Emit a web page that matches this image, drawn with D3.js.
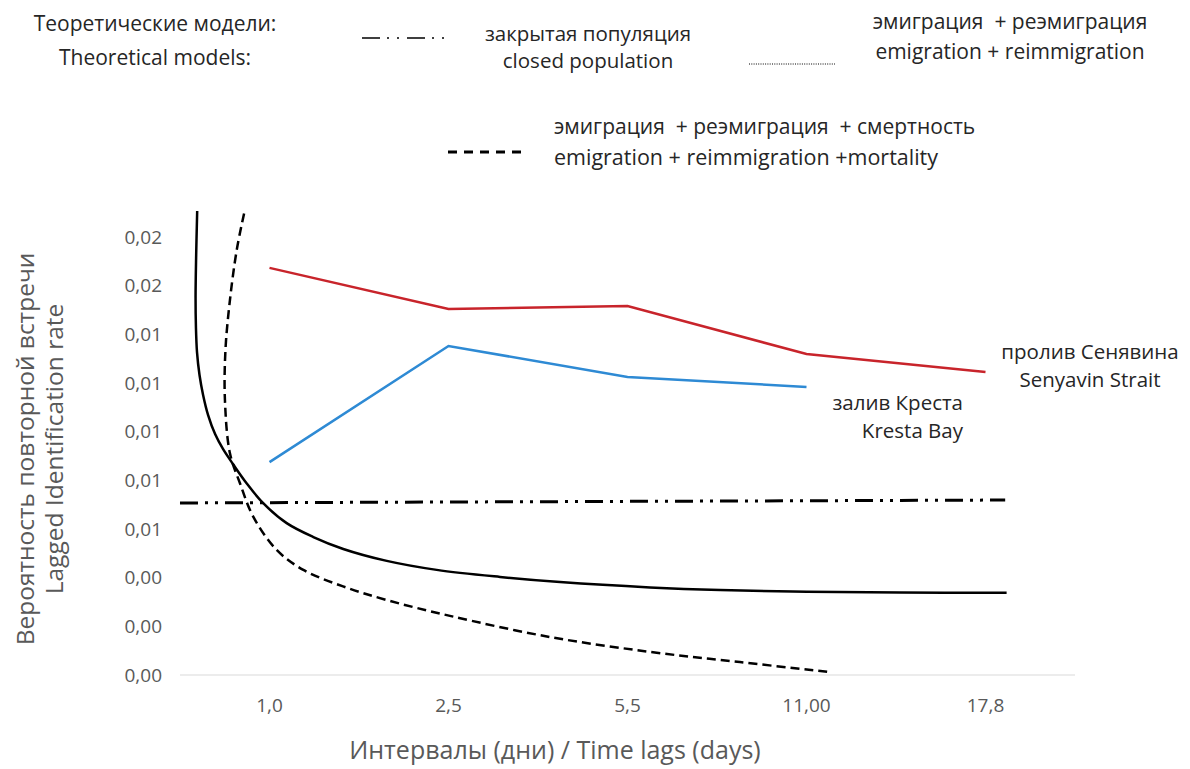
<!DOCTYPE html>
<html>
<head>
<meta charset="utf-8">
<script src="https://cdn.jsdelivr.net/npm/d3@7"></script>
<style>
  body { margin: 0; background: #fff; }
  text { font-family: "Open Sans", sans-serif; white-space: pre; }
</style>
</head>
<body>
<svg id="chart" width="1190" height="769"></svg>
<script>
// Time lag categories (x axis)
const lagLabels = ["1,0", "2,5", "5,5", "11,00", "17,8"];
// Observed lagged identification rates
const senyavinRate = [0.01673, 0.01504, 0.01516, 0.01319, 0.01245];
const krestaRate = [0.00875, 0.01352, 0.01225, 0.01184];
// Theoretical models, x given in lag-index units (0 = first category)
const closedPopX = [-0.5, 4.11];
const closedPopRate = [0.00707, 0.00719];
const emigX = [-0.404, -0.410, -0.413, -0.411, -0.405, -0.391, -0.371, -0.343, -0.304, -0.260, -0.204, -0.127, -0.035, 0.096, 0.245, 0.412, 0.655, 0.934, 1.288, 1.623, 2.126, 2.517, 3.001, 3.522, 4.118];
const emigRate = [0.01907, 0.01714, 0.01553, 0.01430, 0.01327, 0.01233, 0.01151, 0.01068, 0.00990, 0.00929, 0.00867, 0.00787, 0.00706, 0.00624, 0.00567, 0.00518, 0.00469, 0.00432, 0.00403, 0.00382, 0.00360, 0.00349, 0.00342, 0.00339, 0.00338];
const mortX = [-0.142, -0.183, -0.221, -0.246, -0.249, -0.221, -0.165, -0.091, 0.040, 0.189, 0.411, 0.655, 1.008, 1.567, 2.126, 2.628, 3.131];
const mortRate = [0.01897, 0.01747, 0.01541, 0.01336, 0.01130, 0.00911, 0.00788, 0.00651, 0.00514, 0.00432, 0.00364, 0.00308, 0.00243, 0.00156, 0.00095, 0.00053, 0.00012];
const yTicks = d3.range(0, 0.0181, 0.002);

let svg = d3.select("#chart");

let plot = { left: 180, right: 1075, top: 237, bottom: 675 };

let x = d3.scalePoint()
    .domain(lagLabels)
    .range([plot.left, plot.right])
    .padding(0.5);

// continuous version of the same axis for theoretical curves
let xc = d3.scaleLinear()
    .domain([-0.5, lagLabels.length - 0.5])
    .range([plot.left, plot.right]);

let y = d3.scaleLinear()
    .domain([0, 0.018])
    .range([plot.bottom, plot.top]);

let fmt = d => d3.format(".2f")(d).replace(".", ",");

// Y axis labels
svg.append("g").selectAll("text")
    .data(yTicks)
    .join("text")
    .attr("x", 162)
    .attr("y", d => y(d))
    .attr("dy", "0.35em")
    .attr("text-anchor", "end")
    .attr("font-size", 19)
    .attr("fill", "#595959")
    .text(fmt);

// X axis line + labels
svg.append("line")
    .attr("x1", plot.left).attr("x2", plot.right)
    .attr("y1", y(0)).attr("y2", y(0))
    .attr("stroke", "#d9d9d9")
    .attr("stroke-width", 1);

svg.append("g").selectAll("text")
    .data(lagLabels)
    .join("text")
    .attr("x", d => x(d))
    .attr("y", y(0) + 37)
    .attr("text-anchor", "middle")
    .attr("font-size", 19)
    .attr("fill", "#595959")
    .text(d => d);

// Axis titles
svg.append("text")
    .attr("x", 555).attr("y", 759)
    .attr("text-anchor", "middle")
    .attr("font-size", 25)
    .attr("fill", "#595959")
    .text("Интервалы (дни) / Time lags (days)");

let yTitle = svg.append("text")
    .attr("transform", "translate(0,449) rotate(-90)")
    .attr("text-anchor", "middle")
    .attr("font-size", 24.5)
    .attr("fill", "#595959");
yTitle.append("tspan").attr("x", 0).attr("y", 34).text("Вероятность повторной встречи");
yTitle.append("tspan").attr("x", 0).attr("y", 63).text("Lagged Identification rate");

// Theoretical curves
let curveLine = d3.line()
    .x(d => xc(d[0]))
    .y(d => y(d[1]))
    .curve(d3.curveCatmullRom.alpha(0.5));

svg.append("path")
    .datum(d3.zip(closedPopX, closedPopRate))
    .attr("d", d3.line().x(d => xc(d[0])).y(d => y(d[1])))
    .attr("fill", "none")
    .attr("stroke", "#000")
    .attr("stroke-width", 3)
    .attr("stroke-dasharray", "18,7,3,7,3,7");

svg.append("path")
    .datum(d3.zip(emigX, emigRate))
    .attr("d", curveLine)
    .attr("fill", "none")
    .attr("stroke", "#000")
    .attr("stroke-width", 2.5);

svg.append("path")
    .datum(d3.zip(mortX, mortRate))
    .attr("d", curveLine)
    .attr("fill", "none")
    .attr("stroke", "#000")
    .attr("stroke-width", 2.5)
    .attr("stroke-dasharray", "9,5");

// Observed series
let obsLine = d3.line()
    .x((d, i) => x(lagLabels[i]))
    .y(d => y(d));

svg.append("path")
    .datum(senyavinRate)
    .attr("d", obsLine)
    .attr("fill", "none")
    .attr("stroke", "#c8242b")
    .attr("stroke-width", 2.5);

svg.append("path")
    .datum(krestaRate)
    .attr("d", obsLine)
    .attr("fill", "none")
    .attr("stroke", "#2e8ad4")
    .attr("stroke-width", 2.5);

// Series labels
function drawText(lines, opts) {
    let t = svg.append("text")
        .attr("text-anchor", opts.anchor)
        .attr("font-size", opts.size || 20.5)
        .attr("fill", "#262626");
    lines.forEach((s, i) => {
        t.append("tspan").attr("x", opts.x).attr("y", opts.y + i * (opts.lh || 28)).text(s);
    });
}

drawText(["пролив Сенявина", "Senyavin Strait"], { x: 1090, y: 359, anchor: "middle" });
drawText(["залив Креста", "Kresta Bay"], { x: 963, y: 410, anchor: "end" });

// Legend
drawText(["Теоретические модели:", "Theoretical models:"], { x: 155, y: 31, anchor: "middle", size: 21, lh: 34 });
drawText(["закрытая популяция"], { x: 588, y: 41, anchor: "middle", size: 20.5 });
drawText(["closed population"], { x: 588, y: 68, anchor: "middle", size: 20.5 });
drawText(["эмиграция  + реэмиграция", "emigration + reimmigration"], { x: 1010, y: 29, anchor: "middle", size: 21, lh: 30 });
drawText(["эмиграция  + реэмиграция  + смертность"], { x: 554, y: 134, anchor: "start", size: 21 });
drawText(["emigration + reimmigration +mortality"], { x: 554, y: 165, anchor: "start", size: 21.5 });

svg.append("line")
    .attr("x1", 362).attr("x2", 445).attr("y1", 38).attr("y2", 38)
    .attr("stroke", "#000").attr("stroke-width", 1.5)
    .attr("stroke-dasharray", "18,7,2,8,2,8");

svg.append("line")
    .attr("x1", 749).attr("x2", 835).attr("y1", 64).attr("y2", 64)
    .attr("stroke", "#000").attr("stroke-width", 1)
    .attr("stroke-dasharray", "1,1.3");

svg.append("line")
    .attr("x1", 448).attr("x2", 523).attr("y1", 152).attr("y2", 152)
    .attr("stroke", "#000").attr("stroke-width", 3)
    .attr("stroke-dasharray", "9,7");
</script>
</body>
</html>
